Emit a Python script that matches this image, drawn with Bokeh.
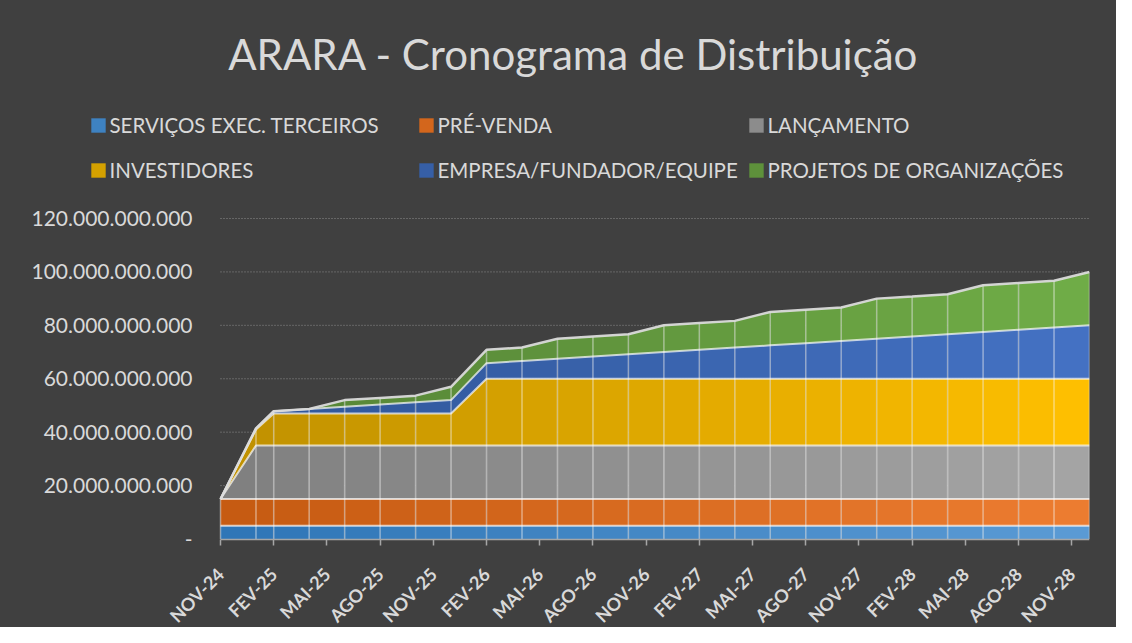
import math
import numpy as np
from bokeh.plotting import figure
from bokeh.layouts import column
from bokeh.models import (Range1d, FixedTicker, Legend, LegendItem, Label,
                          ColumnDataSource)
from bokeh.embed import file_html
from bokeh.resources import INLINE

# ---------------- data (values in billions) ----------------
DATES = ["2024-11", "2025-01", "2025-02", "2025-04", "2025-06", "2025-08",
         "2025-10", "2025-12", "2026-02", "2026-04", "2026-06", "2026-08",
         "2026-10", "2026-12", "2027-02", "2027-04", "2027-06", "2027-08",
         "2027-10", "2027-12", "2028-02", "2028-04", "2028-06", "2028-08",
         "2028-10", "2028-12"]

SERVICOS = [5, 5, 5, 5, 5, 5, 5, 5, 5, 5, 5, 5, 5,
            5, 5, 5, 5, 5, 5, 5, 5, 5, 5, 5, 5, 5]
PRE_VENDA = [10, 10, 10, 10, 10, 10, 10, 10, 10, 10, 10, 10, 10,
             10, 10, 10, 10, 10, 10, 10, 10, 10, 10, 10, 10, 10]
LANCAMENTO = [0, 20, 20, 20, 20, 20, 20, 20, 20, 20, 20, 20, 20,
              20, 20, 20, 20, 20, 20, 20, 20, 20, 20, 20, 20, 20]
INVESTIDORES = [0, 6, 12, 12, 12, 12, 12, 12, 25, 25, 25, 25, 25,
                25, 25, 25, 25, 25, 25, 25, 25, 25, 25, 25, 25, 25]
EMPRESA = [0, 0.42, 0.83, 1.67, 2.5, 3.33, 4.17, 5.0, 5.83, 6.67, 7.5, 8.33, 9.17,
           10.0, 10.83, 11.67, 12.5, 13.33, 14.17, 15.0, 15.83, 16.67, 17.5, 18.33, 19.17, 20.0]
PROJETOS = [0, 0, 0, 0, 2.5, 2.5, 2.5, 5, 5, 5, 7.5, 7.5, 7.5,
            10, 10, 10, 12.5, 12.5, 12.5, 15, 15, 15, 17.5, 17.5, 17.5, 20]

SERIES_NAMES = ["SERVIÇOS EXEC. TERCEIROS", "PRÉ-VENDA", "LANÇAMENTO",
                "INVESTIDORES", "EMPRESA/FUNDADOR/EQUIPE", "PROJETOS DE ORGANIZAÇÕES"]

X_TICK_LABELS = ["NOV-24", "FEV-25", "MAI-25", "AGO-25", "NOV-25", "FEV-26",
                 "MAI-26", "AGO-26", "NOV-26", "FEV-27", "MAI-27", "AGO-27",
                 "NOV-27", "FEV-28", "MAI-28", "AGO-28", "NOV-28"]
Y_TICK_VALUES = [0, 20, 40, 60, 80, 100, 120]
Y_TICK_LABELS = ["-", "20.000.000.000", "40.000.000.000", "60.000.000.000",
                 "80.000.000.000", "100.000.000.000", "120.000.000.000"]
TITLE = "ARARA - Cronograma de Distribuição"

# ---------------- styling / layout ----------------
BG = "#404040"
TXT = "#D9D9D9"
FONT = "Lato"
GRAD = [((46, 117, 182), (91, 155, 213)),
        ((197, 90, 17), (237, 125, 49)),
        ((127, 127, 127), (165, 165, 165)),
        ((191, 144, 0), (255, 192, 0)),
        ((47, 85, 151), (68, 114, 196)),
        ((84, 130, 53), (112, 173, 71))]

PT_MONTHS = {"JAN": 1, "FEV": 2, "MAR": 3, "ABR": 4, "MAI": 5, "JUN": 6,
             "JUL": 7, "AGO": 8, "SET": 9, "OUT": 10, "NOV": 11, "DEZ": 12}

W, H = 1116, 627
HEAD_H = 200
MAIN_H = H - HEAD_H
PLOT_LEFT_PX = 220      # px from the left edge to the first date
PLOT_RIGHT_PAD = 27     # px right of the last date
PLOT_TOP_PAD = 18       # px between header and the 120 bn gridline
PLOT_DATA_PX = 320.5    # px height of the 0..120 bn band


def month_index(year, month):
    return (year - 2024) * 12 + month - 11


months = [month_index(int(d[:4]), int(d[5:7])) for d in DATES]
x_ticks = [month_index(2000 + int(l[4:]), PT_MONTHS[l[:3]]) for l in X_TICK_LABELS]

series = [SERVICOS, PRE_VENDA, LANCAMENTO, INVESTIDORES, EMPRESA, PROJETOS]
stack = np.cumsum(np.array(series, dtype=float), axis=0)
bottoms = np.vstack([np.zeros(len(months)), stack[:-1]])


def lerp(c0, c1, t):
    return "#%02x%02x%02x" % tuple(int(round(a + (b - a) * t)) for a, b in zip(c0, c1))


def no_align(fig):
    if "frame_align" in fig.properties():
        fig.frame_align = False


# ---------------- header: title + legend ----------------
hdr = figure(width=W, height=HEAD_H, output_backend="svg", toolbar_location=None,
             title=None,
             x_range=Range1d(0, W), y_range=Range1d(HEAD_H, 0),
             x_axis_location=None, y_axis_location=None,
             min_border=0, min_border_left=0, min_border_right=0,
             min_border_top=0, min_border_bottom=0,
             styles={"background-color": BG})
hdr.background_fill_color = BG
hdr.border_fill_color = BG
hdr.outline_line_color = None
hdr.grid.visible = False
no_align(hdr)

hdr.add_layout(Label(x=573, y=53.5, text=TITLE,
                     text_align="center", text_baseline="middle",
                     text_font=FONT, text_font_size="42px", text_color=TXT))

# invisible zero-size proxies that give the legend its colour swatches
dummies = []
for k in range(len(SERIES_NAMES)):
    dummies.append(hdr.rect(x=[0], y=[0], width=0, height=0,
                            fill_color=lerp(GRAD[k][0], GRAD[k][1], 0.35),
                            line_color=None))

legend_cols = [[0, 3], [1, 4], [2, 5]]
legend_x = [88.5, 416.5, 746.5]
for c, idxs in enumerate(legend_cols):
    leg = Legend(items=[LegendItem(label=SERIES_NAMES[j], renderers=[dummies[j]], index=0)
                        for j in idxs],
                 location=(legend_x[c], HEAD_H - 181.5), orientation="vertical",
                 background_fill_alpha=0, border_line_color=None,
                 padding=0, margin=0, spacing=21,
                 glyph_width=18, glyph_height=18, label_standoff=3,
                 label_height=24,
                 label_text_font=FONT, label_text_font_size="20.5px",
                 label_text_color=TXT)
    hdr.add_layout(leg, "center")

# ---------------- main chart ----------------
# the frame fills the whole figure so that axis labels drawn at fixed
# locations are never clipped; ranges are padded to keep the data box in place
span = months[-1] - months[0]
px_per_month = (W - PLOT_LEFT_PX - PLOT_RIGHT_PAD) / span
x_start = months[0] - PLOT_LEFT_PX / px_per_month
y_top = Y_TICK_VALUES[-1]
px_per_unit = PLOT_DATA_PX / (y_top - Y_TICK_VALUES[0])
y_end = y_top + PLOT_TOP_PAD / px_per_unit
y_start = Y_TICK_VALUES[0] - (MAIN_H - PLOT_TOP_PAD - PLOT_DATA_PX) / px_per_unit

p = figure(width=W, height=MAIN_H, output_backend="svg", toolbar_location=None,
           title=None,
           x_range=Range1d(x_start, months[-1]),
           y_range=Range1d(y_start, y_end),
           min_border_left=0, min_border_right=PLOT_RIGHT_PAD,
           min_border_top=0, min_border_bottom=0,
           styles={"background-color": BG})
p.background_fill_color = BG
p.border_fill_color = BG
p.outline_line_color = None
no_align(p)

n = len(months)

# dotted horizontal gridlines limited to the date span
grid_y = Y_TICK_VALUES[1:]
p.segment(x0=[months[0]] * len(grid_y), y0=grid_y,
          x1=[months[-1]] * len(grid_y), y1=grid_y,
          line_color="#8C8C8C", line_width=1, line_dash="1 2")

for k in range(len(series)):
    xs, ys, cols = [], [], []
    for i in range(n - 1):
        xs.append([months[i], months[i + 1], months[i + 1], months[i]])
        ys.append([bottoms[k][i], bottoms[k][i + 1], stack[k][i + 1], stack[k][i]])
        t = ((months[i] + months[i + 1]) / 2 - months[0]) / span
        cols.append(lerp(GRAD[k][0], GRAD[k][1], t))
    src = ColumnDataSource(dict(xs=xs, ys=ys, color=cols))
    p.patches("xs", "ys", source=src, fill_color="color", line_color=None)

# drop lines at each data point
p.segment(x0=months, y0=[0] * n, x1=months, y1=list(stack[-1]),
          line_color="white", line_alpha=0.45, line_width=1.5)

# series outlines
for k in range(len(series)):
    if k == len(series) - 1:
        p.line(months, list(stack[k]), line_color="#DADADA", line_alpha=0.95, line_width=2.5)
    else:
        p.line(months, list(stack[k]), line_color="white", line_alpha=0.7, line_width=2)

# axes
p.xaxis.fixed_location = Y_TICK_VALUES[0]
p.xaxis.bounds = (months[0], months[-1])
p.xaxis.ticker = FixedTicker(ticks=x_ticks)
p.xaxis.major_label_overrides = {t: l for t, l in zip(x_ticks, X_TICK_LABELS)}
p.xaxis.major_label_orientation = math.pi / 4
p.xaxis.major_label_text_font = FONT
p.xaxis.major_label_text_font_size = "18px"
p.xaxis.major_label_text_font_style = "bold"
p.xaxis.major_label_text_color = TXT
p.xaxis.axis_line_color = "#A6A6A6"
p.xaxis.axis_line_width = 1.5
p.xaxis.major_tick_line_color = "#A6A6A6"
p.xaxis.major_tick_line_width = 1.5
p.xaxis.major_tick_out = 6
p.xaxis.major_tick_in = 0
p.xaxis.minor_tick_line_color = None
p.xaxis.major_label_standoff = 26

p.yaxis.fixed_location = months[0]
p.yaxis.bounds = (Y_TICK_VALUES[0], Y_TICK_VALUES[-1])
p.yaxis.ticker = FixedTicker(ticks=Y_TICK_VALUES)
p.yaxis.major_label_overrides = {v: l for v, l in zip(Y_TICK_VALUES, Y_TICK_LABELS)}
p.yaxis.major_label_text_font = FONT
p.yaxis.major_label_text_font_size = "21px"
p.yaxis.major_label_text_color = TXT
p.yaxis.axis_line_color = None
p.yaxis.major_tick_line_color = None
p.yaxis.minor_tick_line_color = None
p.yaxis.major_tick_out = 0
p.yaxis.major_label_standoff = 28

p.grid.visible = False

layout = column(hdr, p, spacing=0, styles={"background-color": BG})

with open("out.html", "w", encoding="utf-8") as f:
    f.write(file_html(layout, INLINE))
